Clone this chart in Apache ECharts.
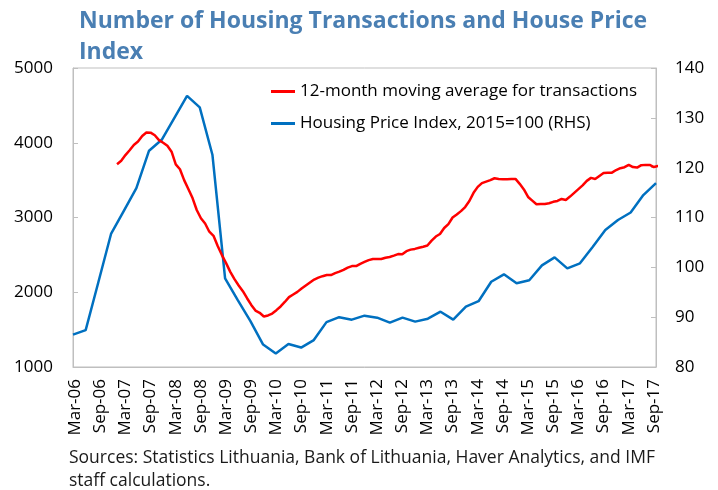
<!DOCTYPE html>
<html>
<head>
<meta charset="utf-8">
<script src="https://cdn.jsdelivr.net/npm/echarts@6/dist/echarts.min.js"></script>
<style>
  html, body { margin: 0; padding: 0; background: #fff; }
  #chart { width: 718px; height: 490px; }
</style>
</head>
<body>
<div id="chart"></div>
<script>
var myChart = echarts.init(document.getElementById('chart'));

var FONT = '"Open Sans", "Noto Sans", sans-serif';

// monthly axis Mar-06 .. Sep-17
var monthNames = ['Jan', 'Feb', 'Mar', 'Apr', 'May', 'Jun', 'Jul', 'Aug', 'Sep', 'Oct', 'Nov', 'Dec'];
var firstYear = 2006, firstMonth = 2, axisMonths = 139;
var months = [];
for (var i = 0; i < axisMonths; i++) {
    var m = firstMonth + i;
    var yy = firstYear + Math.floor(m / 12);
    months.push(monthNames[m % 12] + '-' + String(yy).slice(2));
}
// quarterly categories for the price index, Mar-06 .. Sep-17
var quarters = [];
for (var q = 0; q < 47; q++) quarters.push(months[q * 3]);

// 12-month moving average of transactions, Jan-07 .. Dec-17
// (the last three months run past the end of the axis, as in the original)
var transFirst = 10;
var transactions = [
    3713, 3760, 3835, 3900, 3970, 4016, 4090, 4137, 4135, 4100, 4035, 4000,
    3960, 3880, 3710, 3646, 3500, 3380, 3260, 3100, 2990, 2920, 2810, 2755,
    2620, 2497, 2390, 2273, 2175, 2090, 2015, 1920, 1830, 1755, 1725, 1675,
    1690, 1715, 1760, 1810, 1870, 1935, 1970, 2005, 2050, 2090, 2130, 2170,
    2195, 2215, 2230, 2230, 2255, 2275, 2300, 2330, 2350, 2350, 2380, 2405,
    2430, 2444, 2444, 2444, 2462, 2472, 2490, 2511, 2507, 2550, 2570, 2580,
    2595, 2609, 2625, 2690, 2745, 2780, 2860, 2912, 3000, 3040, 3085, 3140,
    3220, 3330, 3410, 3460, 3480, 3500, 3525, 3515, 3512, 3512, 3514, 3516,
    3450, 3375, 3275, 3226, 3177, 3181, 3181, 3190, 3210, 3221, 3248, 3235,
    3280, 3330, 3380, 3430, 3490, 3530, 3515, 3555, 3595, 3600, 3600, 3635,
    3660, 3673, 3704, 3675, 3668, 3700, 3704, 3704, 3675, 3690, 3700, 3690
];
// House price index 2015=100, quarterly
var priceIndex = [
    86.5, 87.4, 97.0, 106.7, 111.3, 115.9, 123.4, 125.6, 130.0, 134.4, 132.1, 122.6,
    97.8, 93.4, 89.2, 84.5, 82.7, 84.6, 83.9, 85.4, 89.0, 90.0, 89.5, 90.3,
    89.9, 88.9, 89.9, 89.1, 89.7, 91.1, 89.5, 92.1, 93.2, 97.1, 98.6, 96.8,
    97.4, 100.4, 102.0, 99.8, 100.8, 104.1, 107.5, 109.5, 111.0, 114.5, 116.9
];

var leftTicks = { min: 1000, max: 5000, interval: 1000 };
var rightTicks = { min: 80, max: 140, interval: 10 };

// red line sits on the middle of each month band of a hidden month scale
var transSeries = transactions.map(function (val, j) {
    return [transFirst + j + 0.5, val];
});

var axisGray = '#bfbfbf';
var labelStyle = { color: '#000', fontFamily: FONT, fontSize: 17 };

var option = {
    animation: false,
    backgroundColor: '#fff',
    title: {
        text: 'Number of Housing Transactions and House Price\nIndex',
        left: 74,
        top: 1,
        textStyle: {
            color: '#4a7fb3',
            fontFamily: FONT,
            fontWeight: 'bold',
            fontSize: 23,
            lineHeight: 31
        }
    },
    legend: {
        orient: 'vertical',
        left: 266,
        top: 78,
        icon: 'rect',
        itemWidth: 24,
        itemHeight: 3,
        itemGap: 15,
        textStyle: { color: '#000', fontFamily: FONT, fontSize: 17 },
        data: ['12-month moving average for transactions', 'Housing Price Index, 2015=100 (RHS)']
    },
    grid: {
        left: 73,
        right: 62,
        top: 68,
        bottom: 123,
        show: true,
        borderColor: axisGray,
        borderWidth: 1
    },
    xAxis: [
        {
            type: 'category',
            data: months,
            boundaryGap: true,
            axisLine: { lineStyle: { color: axisGray } },
            axisTick: { inside: true, length: 5, interval: 5, lineStyle: { color: axisGray } },
            axisLabel: Object.assign({ interval: 5, rotate: 90, margin: 12 }, labelStyle),
            splitLine: { show: false }
        },
        {
            type: 'category',
            data: quarters,
            boundaryGap: false,
            show: false
        },
        {
            type: 'value',
            min: 0,
            max: axisMonths,
            show: false
        }
    ],
    yAxis: [
        {
            type: 'value',
            min: leftTicks.min,
            max: leftTicks.max,
            interval: leftTicks.interval,
            axisLine: { show: true, lineStyle: { color: axisGray } },
            axisTick: { show: true, inside: true, length: 5, lineStyle: { color: axisGray } },
            axisLabel: Object.assign({ margin: 20, formatter: function (val) { return String(val); } }, labelStyle),
            splitLine: { show: false }
        },
        {
            type: 'value',
            position: 'right',
            min: rightTicks.min,
            max: rightTicks.max,
            interval: rightTicks.interval,
            axisLine: { show: true, lineStyle: { color: axisGray } },
            axisTick: { show: true, inside: true, length: 5, lineStyle: { color: axisGray } },
            axisLabel: Object.assign({ margin: 19 }, labelStyle),
            splitLine: { show: false }
        }
    ],
    graphic: [{
        type: 'text',
        left: 69,
        top: 447,
        style: {
            text: 'Sources: Statistics Lithuania, Bank of Lithuania, Haver Analytics, and IMF\nstaff calculations.',
            fill: '#1a1a1a',
            font: '17.5px ' + FONT,
            lineHeight: 23
        }
    }],
    series: [
        {
            name: '12-month moving average for transactions',
            type: 'line',
            xAxisIndex: 2,
            yAxisIndex: 0,
            data: transSeries,
            symbol: 'none',
            clip: false,
            lineStyle: { color: '#ff0000', width: 2.5 },
            itemStyle: { color: '#ff0000' },
            z: 3
        },
        {
            name: 'Housing Price Index, 2015=100 (RHS)',
            type: 'line',
            xAxisIndex: 1,
            yAxisIndex: 1,
            data: priceIndex,
            symbol: 'none',
            lineStyle: { color: '#0070c0', width: 2.5 },
            itemStyle: { color: '#0070c0' },
            z: 2
        }
    ]
};

myChart.setOption(option);
</script>
</body>
</html>
